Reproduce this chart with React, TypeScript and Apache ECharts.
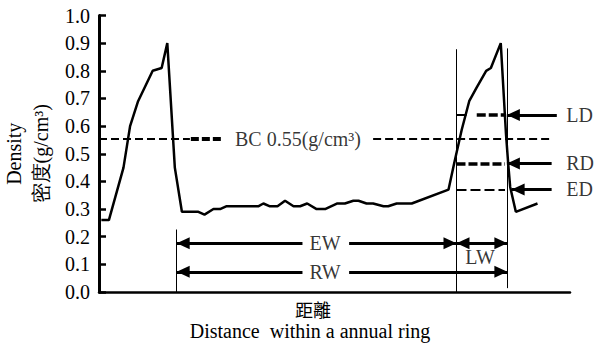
import React, { useEffect, useRef } from 'react';
import * as echarts from 'echarts';

// Distance within the annual ring (relative units 0–100) and density (g/cm³)
const distance = [0.5, 2.1, 5.2, 6.6, 8.3, 11.4, 13.3, 14.5, 16.1, 17.6, 21.1, 22.4, 24.3, 25.7, 27.0, 33.8, 34.9, 36.3, 37.9, 39.5, 41.3, 42.7, 44.2, 46.2, 48.0, 50.5, 52.2, 54.0, 55.1, 56.8, 58.2, 60.4, 61.4, 63.2, 66.4, 74.2, 75.4, 77.0, 78.6, 80.2, 82.2, 83.2, 85.3, 86.4, 86.9, 87.3, 88.5, 93.1];
const density = [0.26, 0.26, 0.45, 0.60, 0.69, 0.80, 0.81, 0.90, 0.45, 0.29, 0.29, 0.28, 0.30, 0.30, 0.31, 0.31, 0.32, 0.31, 0.31, 0.33, 0.31, 0.31, 0.32, 0.30, 0.30, 0.32, 0.32, 0.33, 0.33, 0.32, 0.32, 0.31, 0.31, 0.32, 0.32, 0.37, 0.465, 0.586, 0.69, 0.74, 0.80, 0.81, 0.90, 0.574, 0.46, 0.38, 0.29, 0.32];

// Reference levels (g/cm³)
const bcValue = 0.555;
const ldValue = 0.64;
const rdValue = 0.465;
const edValue = 0.371;

// Boundaries along the distance axis
const ewStart = 16.5;
const ewEnd = 75.9;
const lwEnd = 86.7;

// Annotation arrow heights
const ewArrowY = 0.176;
const rwArrowY = 0.073;

const SERIF = 'Liberation Serif';
const CJK = 'Noto Sans CJK TC';

const annotations = [
  { text: 'BC 0.55(g/cm³)', x: 42.25, y: bcValue, align: 'center' },
  { text: 'EW', x: 48.0, y: ewArrowY, align: 'center' },
  { text: 'RW', x: 48.0, y: rwArrowY, align: 'center' },
  { text: 'LW', x: 80.9, y: 0.125, align: 'center' },
  { text: 'LD', x: 99.2, y: ldValue, align: 'left' },
  { text: 'RD', x: 99.2, y: rdValue, align: 'left' },
  { text: 'ED', x: 99.2, y: edValue, align: 'left' },
];

const head = { symbol: 'triangle', symbolSize: [12, 13], symbolOffset: [0, 6.5] };

function segSeries(name: string, lineStyle: any, data: any[]) {
  return {
    type: 'line',
    name,
    data: [],
    silent: true,
    markLine: {
      silent: true,
      symbol: ['none', 'none'],
      label: { show: false },
      emphasis: { disabled: true },
      lineStyle,
      data,
    },
  };
}

export default function App() {
  const ref = useRef<HTMLDivElement>(null);
  useEffect(() => {
    if (!ref.current) return;
    const chart = echarts.init(ref.current, null, { renderer: 'svg' });
    const option: any = {
      animation: false,
      backgroundColor: '#fff',
      textStyle: { fontFamily: SERIF, color: '#000' },
      grid: { left: 99, right: 26, top: 15.5, bottom: 53, outerBoundsMode: 'none', containLabel: false },
      xAxis: {
        type: 'value',
        min: 0,
        max: 100,
        axisLine: { show: true, onZero: false, lineStyle: { color: '#000', width: 2.5 } },
        axisTick: { show: false },
        axisLabel: { show: false },
        splitLine: { show: false },
      },
      yAxis: {
        type: 'value',
        min: 0,
        max: 1,
        interval: 0.1,
        name: 'Density\n密度(g/cm³)',
        nameLocation: 'middle',
        nameRotate: 90,
        nameGap: 45,
        nameTextStyle: { fontFamily: SERIF, fontSize: 20, lineHeight: 27, color: '#000' },
        axisLine: { show: true, lineStyle: { color: '#000', width: 3 } },
        axisTick: { show: true, inside: true, length: 7, lineStyle: { color: '#000', width: 2.5 } },
        axisLabel: {
          color: '#000',
          fontFamily: SERIF,
          fontSize: 20,
          margin: 9,
          formatter: (v: number) => v.toFixed(1),
        },
        splitLine: { show: false },
      },
      graphic: [
        {
          type: 'text', x: 313, y: 309,
          style: { text: '距離', fontFamily: CJK, fontSize: 18, fill: '#000', align: 'center', verticalAlign: 'middle' },
        },
        {
          type: 'text', x: 310, y: 331,
          style: { text: 'Distance  within a annual ring', fontFamily: SERIF, fontSize: 20, fill: '#000', align: 'center', verticalAlign: 'middle' },
        },
      ],
      series: [
        {
          type: 'line',
          name: 'density',
          data: distance.map((d, i) => [d, density[i]]),
          symbol: 'none',
          lineStyle: { color: '#000', width: 2.5 },
          silent: true,
          z: 3,
        },
        // vertical boundary lines
        segSeries('bounds', { color: '#000', width: 1, type: 'solid' }, [
          [{ coord: [ewStart, 0] }, { coord: [ewStart, 0.226] }],
          [{ coord: [ewEnd, 0] }, { coord: [ewEnd, 0.878] }],
          [{ coord: [lwEnd, 0.014] }, { coord: [lwEnd, 0.881] }],
        ]),
        // BC dashed line
        segSeries('bcThin', { color: '#000', width: 2, type: [8, 4] }, [
          [{ coord: [0, bcValue] }, { coord: [19.3, bcValue] }],
          [{ coord: [58.2, bcValue] }, { coord: [95.8, bcValue] }],
        ]),
        segSeries('bcThick', { color: '#000', width: 4, type: [8, 3] }, [
          [{ coord: [19.5, bcValue] }, { coord: [26.4, bcValue] }],
        ]),
        // LD / RD / ED dashed levels
        segSeries('levelsThin', { color: '#000', width: 2, type: [10, 4] }, [
          [{ coord: [ewEnd, ldValue] }, { coord: [78.3, ldValue] }],
          [{ coord: [ewEnd, edValue] }, { coord: [86.2, edValue] }],
        ]),
        segSeries('levelsThick', { color: '#000', width: 3.5, type: [9, 3] }, [
          [{ coord: [80.2, ldValue] }, { coord: [86.2, ldValue] }],
          [{ coord: [ewEnd, rdValue] }, { coord: [86.2, rdValue] }],
        ]),
        // arrows
        segSeries('arrows', { color: '#000', width: 3, type: 'solid' }, [
          [{ coord: [ewStart, ewArrowY], ...head }, { coord: [43.2, ewArrowY] }],
          [{ coord: [53.1, ewArrowY] }, { coord: [ewEnd, ewArrowY], ...head }],
          [{ coord: [ewEnd, ewArrowY], ...head }, { coord: [lwEnd, ewArrowY], ...head }],
          [{ coord: [ewStart, rwArrowY], ...head }, { coord: [43.2, rwArrowY] }],
          [{ coord: [53.1, rwArrowY] }, { coord: [lwEnd, rwArrowY], ...head }],
          [{ coord: [97.2, ldValue] }, { coord: [86.6, ldValue], ...head }],
          [{ coord: [96.1, rdValue] }, { coord: [86.6, rdValue], ...head }],
          [{ coord: [96.1, edValue] }, { coord: [87.6, edValue], ...head }],
        ]),
        {
          type: 'scatter',
          name: 'labels',
          silent: true,
          symbolSize: 0,
          clip: false,
          data: annotations.map((a) => ({
            value: [a.x, a.y],
            label: {
              show: true,
              position: 'inside',
              formatter: a.text,
              align: a.align,
              verticalAlign: 'middle',
              color: '#000',
              fontFamily: SERIF,
              fontSize: 20,
            },
          })),
          z: 6,
        },
      ],
    };
    chart.setOption(option);
    return () => chart.dispose();
  }, []);
  return (
    <div
      ref={ref}
      style={{ position: 'fixed', left: 0, top: 0, width: 596, height: 345, background: '#fff' }}
    />
  );
}
